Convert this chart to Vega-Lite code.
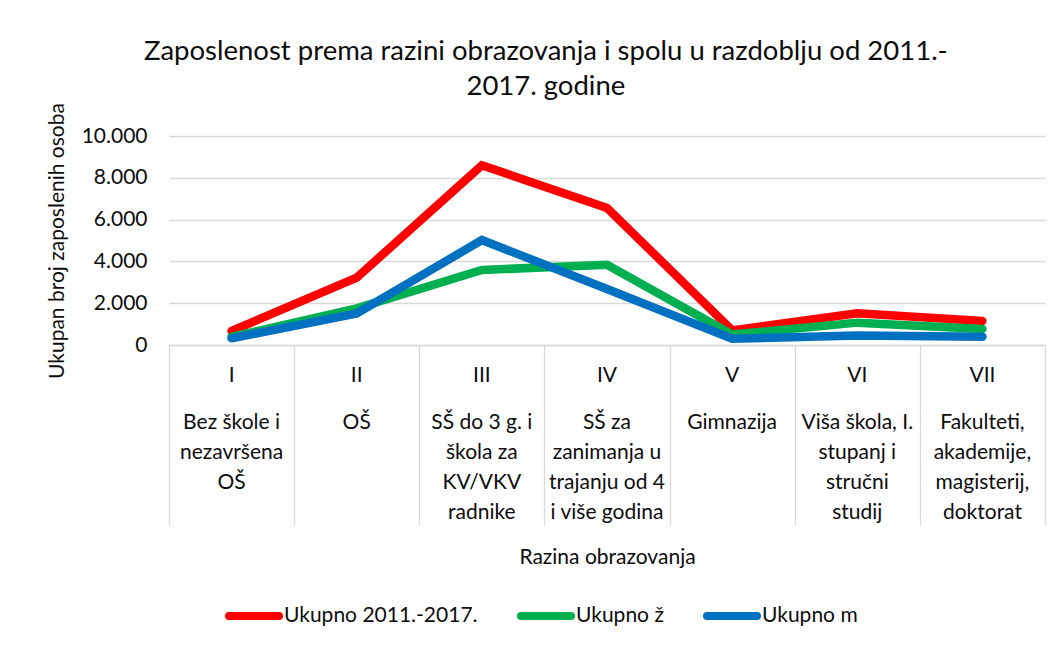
{
  "$schema": "https://vega.github.io/schema/vega-lite/v6.json",
  "width": 876,
  "height": 209,
  "autosize": {"type": "none"},
  "padding": {"left": 169, "top": 136, "right": 19, "bottom": 303},
  "background": "white",
  "title": {
    "text": ["Zaposlenost prema razini obrazovanja i spolu u razdoblju od 2011.-", "2017. godine"],
    "font": "Lato",
    "fontSize": 27.5,
    "fontWeight": "normal",
    "color": "#0d0d0d",
    "lineHeight": 35,
    "frame": "bounds",
    "anchor": "middle",
    "offset": 2
  },
  "data": {
    "values": [
      {"kat": "I|Bez škole i|nezavršena|OŠ", "serija": "Ukupno 2011.-2017.", "broj": 670},
      {"kat": "II|OŠ", "serija": "Ukupno 2011.-2017.", "broj": 3220},
      {"kat": "III|SŠ do 3 g. i|škola za|KV/VKV|radnike", "serija": "Ukupno 2011.-2017.", "broj": 8600},
      {"kat": "IV|SŠ za|zanimanja u|trajanju od 4|i više godina", "serija": "Ukupno 2011.-2017.", "broj": 6560},
      {"kat": "V|Gimnazija", "serija": "Ukupno 2011.-2017.", "broj": 700},
      {"kat": "VI|Viša škola, I.|stupanj i|stručni|studij", "serija": "Ukupno 2011.-2017.", "broj": 1520},
      {"kat": "VII|Fakulteti,|akademije,|magisterij,|doktorat", "serija": "Ukupno 2011.-2017.", "broj": 1150},
      {"kat": "I|Bez škole i|nezavršena|OŠ", "serija": "Ukupno ž", "broj": 390},
      {"kat": "II|OŠ", "serija": "Ukupno ž", "broj": 1750},
      {"kat": "III|SŠ do 3 g. i|škola za|KV/VKV|radnike", "serija": "Ukupno ž", "broj": 3590},
      {"kat": "IV|SŠ za|zanimanja u|trajanju od 4|i više godina", "serija": "Ukupno ž", "broj": 3840},
      {"kat": "V|Gimnazija", "serija": "Ukupno ž", "broj": 500},
      {"kat": "VI|Viša škola, I.|stupanj i|stručni|studij", "serija": "Ukupno ž", "broj": 1070},
      {"kat": "VII|Fakulteti,|akademije,|magisterij,|doktorat", "serija": "Ukupno ž", "broj": 770},
      {"kat": "I|Bez škole i|nezavršena|OŠ", "serija": "Ukupno m", "broj": 320},
      {"kat": "II|OŠ", "serija": "Ukupno m", "broj": 1510},
      {"kat": "III|SŠ do 3 g. i|škola za|KV/VKV|radnike", "serija": "Ukupno m", "broj": 5020},
      {"kat": "IV|SŠ za|zanimanja u|trajanju od 4|i više godina", "serija": "Ukupno m", "broj": 2680},
      {"kat": "V|Gimnazija", "serija": "Ukupno m", "broj": 300},
      {"kat": "VI|Viša škola, I.|stupanj i|stručni|studij", "serija": "Ukupno m", "broj": 450},
      {"kat": "VII|Fakulteti,|akademije,|magisterij,|doktorat", "serija": "Ukupno m", "broj": 400}
    ]
  },
  "encoding": {
    "y": {
      "field": "broj",
      "type": "quantitative",
      "scale": {"domain": [0, 10000], "nice": false},
      "axis": {
        "title": "Ukupan broj zaposlenih osoba",
        "values": [0, 2000, 4000, 6000, 8000, 10000],
        "labelExpr": "replace(format(datum.value, ','), ',', '.')",
        "domain": false,
        "ticks": false,
        "labelPadding": 22,
        "grid": true,
        "gridColor": "#d9d9d9",
        "gridWidth": 1.3,
        "titlePadding": 14
      }
    }
  },
  "layer": [
    {
      "mark": {"type": "line", "strokeWidth": 8.5, "strokeCap": "round", "strokeJoin": "miter"},
      "encoding": {
        "x": {
          "field": "kat",
          "type": "ordinal",
          "sort": null,
          "bandPosition": 0.5,
          "scale": {"type": "band", "paddingInner": 0, "paddingOuter": 0},
          "axis": {
            "orient": "bottom",
            "title": "Razina obrazovanja",
            "labels": false,
            "ticks": true,
            "tickBand": "extent",
            "tickSize": 180,
            "tickColor": "#d9d9d9",
            "tickWidth": 1.3,
            "domainColor": "#d9d9d9",
            "domainWidth": 1.3,
            "grid": false,
            "titlePadding": 21
          }
        },
        "color": {
          "field": "serija",
          "type": "nominal",
          "scale": {
            "domain": ["Ukupno 2011.-2017.", "Ukupno ž", "Ukupno m"],
            "range": ["#FF0000", "#00B050", "#0070C0"]
          },
          "legend": {
            "orient": "none",
            "legendX": 56,
            "legendY": 451,
            "direction": "horizontal",
            "title": null,
            "symbolType": "stroke",
            "symbolSize": 2500,
            "symbolStrokeWidth": 8,
            "labelOffset": 1,
            "columnPadding": 27,
            "labelLimit": 400,
            "encode": {"symbols": {"update": {"strokeCap": {"value": "round"}}}}
          }
        }
      }
    },
    {
      "mark": {"type": "point", "opacity": 0},
      "encoding": {
        "x": {
          "field": "kat",
          "type": "ordinal",
          "sort": null,
          "bandPosition": 0.5,
          "scale": {"type": "band", "paddingInner": 0, "paddingOuter": 0},
          "axis": {
            "orient": "bottom",
            "title": null,
            "ticks": false,
            "domain": false,
            "grid": false,
            "labelAngle": 0,
            "labelPadding": 19,
            "labelOverlap": false,
            "labelExpr": "split(datum.value, '|')[0]"
          }
        }
      }
    },
    {
      "mark": {"type": "point", "opacity": 0},
      "encoding": {
        "x": {
          "field": "kat",
          "type": "ordinal",
          "sort": null,
          "bandPosition": 0.5,
          "scale": {"type": "band", "paddingInner": 0, "paddingOuter": 0},
          "axis": {
            "orient": "bottom",
            "title": null,
            "ticks": false,
            "domain": false,
            "grid": false,
            "labelAngle": 0,
            "labelPadding": 66,
            "labelLineHeight": 30,
            "labelOverlap": false,
            "labelLimit": 300,
            "labelExpr": "slice(split(datum.value, '|'), 1)"
          }
        }
      }
    }
  ],
  "resolve": {"axis": {"x": "independent"}},
  "config": {
    "font": "Lato",
    "view": {"stroke": null},
    "axis": {
      "labelFont": "Lato",
      "titleFont": "Lato",
      "labelFontSize": 21,
      "titleFontSize": 21,
      "labelColor": "#0d0d0d",
      "titleColor": "#0d0d0d",
      "titleFontWeight": "normal"
    },
    "legend": {
      "labelFont": "Lato",
      "labelFontSize": 21,
      "labelColor": "#0d0d0d"
    }
  }
}
